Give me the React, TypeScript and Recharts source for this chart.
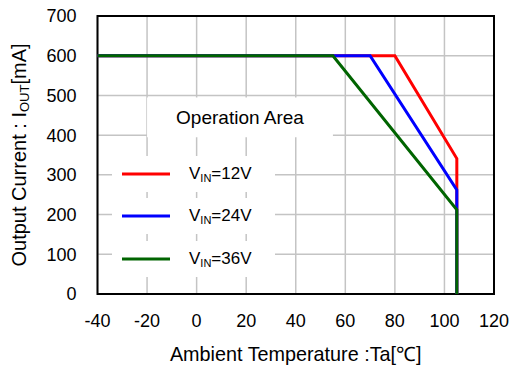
import {
  LineChart,
  Line,
  XAxis,
  YAxis,
  CartesianGrid,
  ReferenceArea,
  Legend,
} from "recharts";

const FONT = "'Liberation Sans', Arial, sans-serif";

// temperature [°C] / output current [mA] corner points
const temps12 = [-40, 80, 105, 105];
const current12 = [600, 600, 341, 0];
const temps24 = [-40, 70, 105, 105];
const current24 = [600, 600, 262, 0];
const temps36 = [-40, 55, 105, 105];
const current36 = [600, 600, 212, 0];

const vinLabels = ["12V", "24V", "36V"];
const colors = ["#ff0000", "#0000ff", "#006400"];

const xTicks = [-40, -20, 0, 20, 40, 60, 80, 100, 120];
const yTicks = [0, 100, 200, 300, 400, 500, 600, 700];

const zip = (xs: number[], ys: number[]) =>
  xs.map((x, i) => ({ t: x, i: ys[i] }));

const series = [
  zip(temps12, current12),
  zip(temps24, current24),
  zip(temps36, current36),
];

function LegendBox({ payload }: any) {
  return (
    <div style={{ fontFamily: FONT, fontSize: 17, color: "#000" }}>
      {(payload || []).map((entry: any, idx: number) => (
        <div
          key={idx}
          style={{
            background: "#fff",
            height: 36,
            marginBottom: 6.4,
            display: "flex",
            alignItems: "center",
          }}
        >
          <svg width={58} height={4} style={{ marginLeft: 10 }}>
            <line x1={0} y1={2} x2={48} y2={2} stroke={entry.color} strokeWidth={3} />
          </svg>
          <span style={{ marginLeft: 9, whiteSpace: "nowrap" }}>
            V<sub style={{ fontSize: 11, verticalAlign: -3 }}>IN</sub>={vinLabels[idx]}
          </span>
        </div>
      ))}
    </div>
  );
}

function YTitle({ viewBox }: any) {
  const cx = 19;
  const cy = viewBox.y + viewBox.height / 2;
  return (
    <text
      x={cx}
      y={cy}
      transform={`rotate(-90, ${cx}, ${cy})`}
      textAnchor="middle"
      dominantBaseline="central"
      fontSize={20}
      fontFamily={FONT}
      fill="#000"
    >
      Output Current : I
      <tspan fontSize={13} dy={5}>OUT</tspan>
      <tspan dy={-5}>[mA]</tspan>
    </text>
  );
}

function XTitle({ viewBox }: any) {
  return (
    <text
      x={viewBox.x + viewBox.width / 2}
      y={361}
      textAnchor="middle"
      fontSize={19.8}
      fontFamily={FONT}
      fill="#000"
    >
      Ambient Temperature :Ta[℃]
    </text>
  );
}

export default function App() {
  return (
    <div style={{ position: "absolute", left: 0, top: 0, background: "#fff" }}>
      <LineChart
        width={511}
        height={370}
        margin={{ top: 16, right: 17, bottom: 0, left: 0 }}
        style={{ fontFamily: FONT }}
      >
        <CartesianGrid stroke="#c4c4c4" strokeWidth={1.5} />
        <XAxis
          type="number"
          dataKey="t"
          domain={[-40, 120]}
          ticks={xTicks}
          height={76}
          axisLine={false}
          tickLine={false}
          tickSize={0}
          tickMargin={20}
          tick={{ fill: "#000", fontSize: 18, fontFamily: FONT }}
          label={{ content: XTitle }}
        />
        <YAxis
          type="number"
          dataKey="i"
          domain={[0, 700]}
          ticks={yTicks}
          width={97.5}
          axisLine={false}
          tickLine={false}
          tickSize={0}
          tickMargin={21}
          tick={{ fill: "#000", fontSize: 18, fontFamily: FONT }}
          label={{ content: YTitle }}
        />
        <ReferenceArea
          x1={-20}
          x2={55}
          y1={395}
          y2={495}
          fill="#fff"
          fillOpacity={1}
          stroke="none"
          label={{
            value: "Operation Area",
            position: "center",
            fontSize: 19,
            fill: "#000",
            fontFamily: FONT,
          }}
        />
        {series.map((d, idx) => (
          <Line
            key={idx}
            data={d}
            dataKey="i"
            name={`VIN=${vinLabels[idx]}`}
            type="linear"
            stroke={colors[idx]}
            strokeWidth={3}
            dot={false}
            activeDot={false}
            isAnimationActive={false}
          />
        ))}
        <ReferenceArea
          x1={-40}
          x2={120}
          y1={0}
          y2={700}
          fill="none"
          stroke="#000"
          strokeWidth={2}
        />
        <Legend
          layout="vertical"
          align="center"
          verticalAlign="middle"
          content={<LegendBox />}
          wrapperStyle={{ left: 112, top: 156, width: 163 }}
        />
      </LineChart>
    </div>
  );
}
